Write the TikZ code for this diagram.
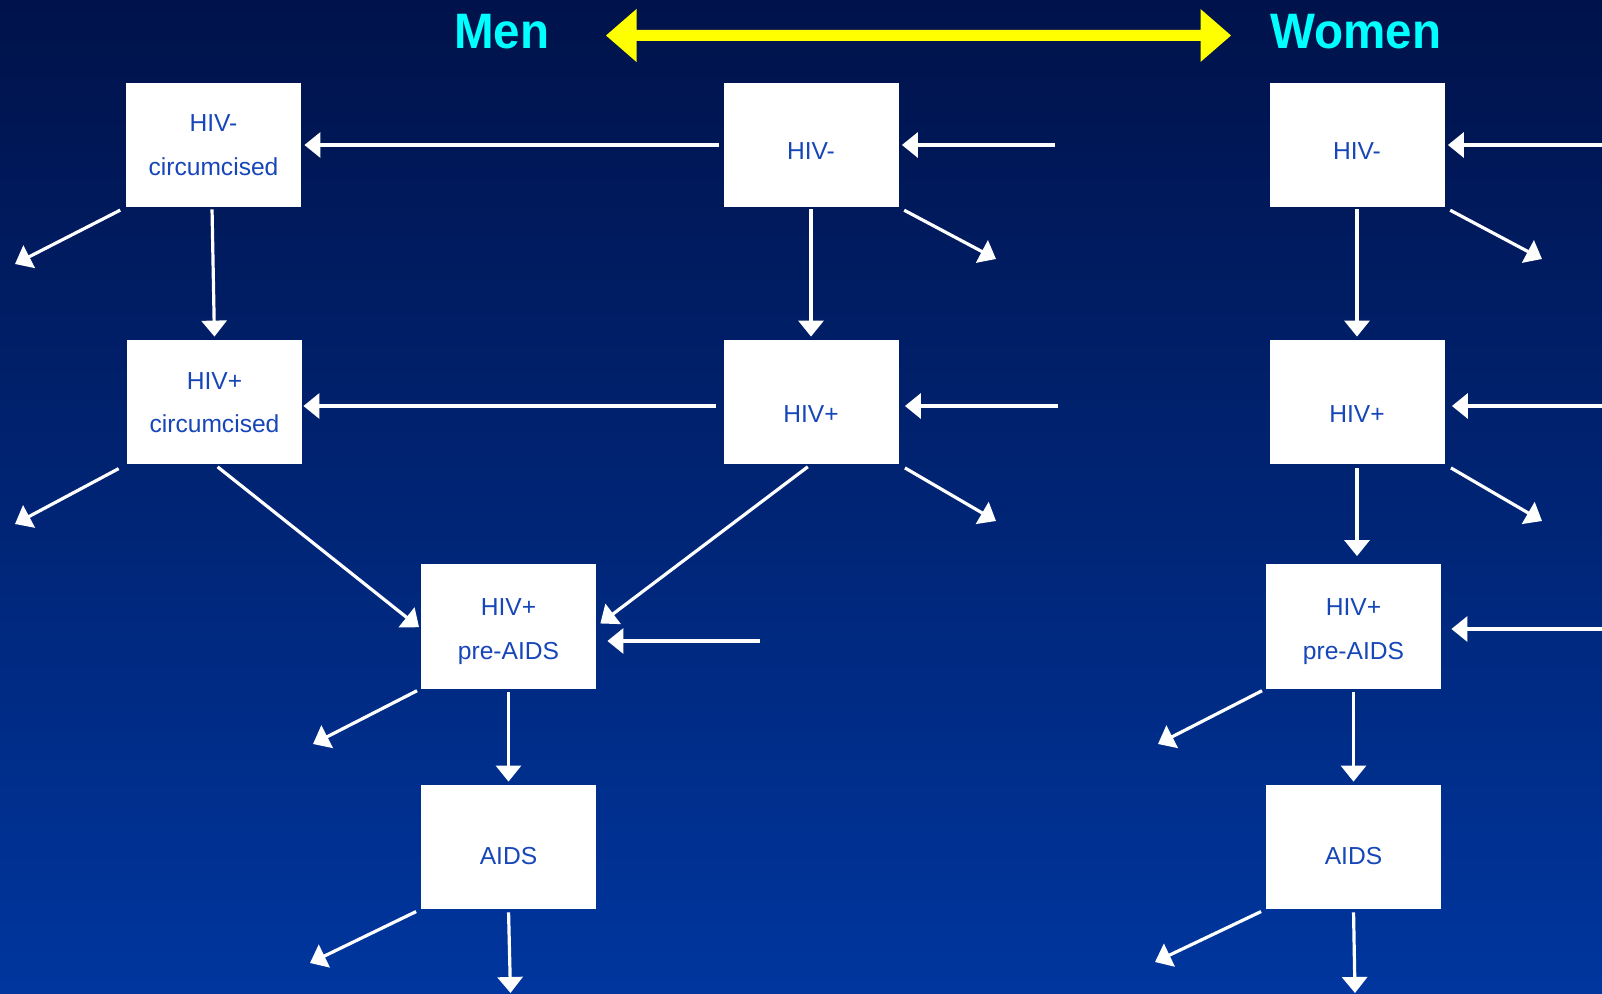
\documentclass[tikz,border=0pt]{standalone}
\usepackage{fontspec}
\setmainfont{Liberation Sans}
\usetikzlibrary{arrows.meta,calc}
\definecolor{bgtop}{RGB}{0,18,74}
\definecolor{bgbot}{RGB}{0,54,158}
\definecolor{boxtxt}{RGB}{22,70,184}
\definecolor{ttl}{RGB}{0,255,255}
\definecolor{yel}{RGB}{255,255,0}
\begin{document}
\begin{tikzpicture}[x=0.5pt,y=-0.5pt,
  box/.style={draw=none,fill=white,minimum width=87.5pt,minimum height=62pt,inner sep=0pt},
  lbl/.style={text=boxtxt,font=\fontsize{12.3}{14}\selectfont,inner sep=0pt,anchor=base},
  arr/.style={draw=white,line width=1.6pt,-{Triangle[length=8pt,width=12.5pt]}},
  ttlstyle/.style={text=ttl,font=\fontsize{24.9}{28}\selectfont\bfseries,inner sep=0pt,anchor=base}]
\useasboundingbox (0,0) rectangle (1602,994);
\shade[top color=bgtop,bottom color=bgbot] (0,0) rectangle (1602,994);

% titles
\node[ttlstyle] (men) at (501.6,48.5) {\scalebox{0.955}[1]{Men}};
\node[ttlstyle] (women) at (1356,48.5) {\scalebox{0.955}[1]{Women}};
\fill[yel] (606,35.5) -- (636.5,9) -- (636.5,30) -- (1200.5,30) -- (1200.5,9) -- (1231,35.5)
  -- (1200.5,62) -- (1200.5,41) -- (636.5,41) -- (636.5,62) -- cycle;

% boxes
\node[box] (hnc) at (213.5,145) {};
\node[box] (hpc) at (214.5,402) {};
\node[box] (hnm) at (811,145) {};
\node[box] (hpm) at (811,402) {};
\node[box] (pam) at (508.5,626.5) {};
\node[box] (aim) at (508.5,847) {};
\node[box] (hnw) at (1357,145) {};
\node[box] (hpw) at (1357,402) {};
\node[box] (paw) at (1353.5,626.5) {};
\node[box] (aiw) at (1353.5,847) {};

% labels
\node[lbl] (hncA) at (213.5,132) {HIV-};
\node[lbl] (hncB) at (213.5,176) {circumcised};
\node[lbl] (hpcA) at (214.5,389.3) {HIV+};
\node[lbl] (hpcB) at (214.5,432.5) {circumcised};
\node[lbl] (hnmA) at (811,160) {HIV-};
\node[lbl] (hpmA) at (811,422.7) {HIV+};
\node[lbl] (pamA) at (508.5,615.7) {HIV+};
\node[lbl] (pamB) at (508.5,660) {pre-AIDS};
\node[lbl] (aimA) at (508.5,864) {AIDS};
\node[lbl] (hnwA) at (1357,160) {HIV-};
\node[lbl] (hpwA) at (1357,422.7) {HIV+};
\node[lbl] (pawA) at (1353.5,615.7) {HIV+};
\node[lbl] (pawB) at (1353.5,660) {pre-AIDS};
\node[lbl] (aiwA) at (1353.5,864) {AIDS};

% free ends
\coordinate (inHnm) at (1055,145);
\coordinate (inHpm) at (1058,406);
\coordinate (inPam) at (760,641);
\coordinate (inHnw) at (1602,145);
\coordinate (inHpw) at (1602,406);
\coordinate (inPaw) at (1602,629);
\coordinate (oHnm) at (996,259);
\coordinate (oHpm) at (996,521);
\coordinate (oHnc) at (15,264);
\coordinate (oHpc) at (15,524);
\coordinate (oPam) at (313,744);
\coordinate (oAim) at (310,963);
\coordinate (dAim) at (510.5,993);
\coordinate (oHnw) at (1542,259);
\coordinate (oHpw) at (1542,521);
\coordinate (oPaw) at (1158,744);
\coordinate (oAiw) at (1155,962);
\coordinate (dAiw) at (1355,993);

% men: horizontal box-to-box
\draw[arr,shorten <=2pt,shorten >=1.5pt] (hnm.west) -- (hnc.east);
\draw[arr,shorten <=3.5pt,shorten >=0.5pt] ($(hpm.west)+(0,4)$) -- ($(hpc.east)+(0,4)$);
% men: vertical / diagonal
\draw[arr,shorten <=1pt,shorten >=1.5pt] (hnm.south) -- (hpm.north);
\draw[arr,shorten <=1pt,shorten >=1.5pt] ($(hnc.south)+(-1.5,0)$) -- (hpc.north);
\draw[arr,shorten <=2pt,shorten >=1pt] (hpc.south) -- ($(pam.west)+(0,2)$);
\draw[arr,shorten <=2pt,shorten >=2.5pt] (hpm.south) -- (pam.east);
\draw[arr,shorten <=1.5pt,shorten >=1.5pt] (pam.south) -- (aim.north);
% men: inflows
\draw[arr,shorten >=1.5pt] (inHnm) -- (inHnm -| hnm.east);
\draw[arr,shorten >=3pt] (inHpm) -- (inHpm -| hpm.east);
\draw[arr,shorten >=5.5pt] (inPam) -- (inPam -| pam.east);
% men: outflows
\draw[arr,shorten <=3pt] (hnm.south east) -- (oHnm);
\draw[arr,shorten <=3.5pt] (hpm.south east) -- (oHpm);
\draw[arr,shorten <=3pt] (hnc.south west) -- (oHnc);
\draw[arr,shorten <=4.5pt] (hpc.south west) -- (oHpc);
\draw[arr,shorten <=2pt] (pam.south west) -- (oPam);
\draw[arr,shorten <=2.5pt] (aim.south west) -- (oAim);
\draw[arr,shorten <=1.5pt] (aim.south) -- (dAim);

% women
\draw[arr,shorten <=1pt,shorten >=1.5pt] (hnw.south) -- (hpw.north);
\draw[arr,shorten <=2pt,shorten >=4pt] (hpw.south) -- (hpw.south |- paw.north);
\draw[arr,shorten <=1.5pt,shorten >=1.5pt] (paw.south) -- (aiw.north);
\draw[arr,shorten >=1.5pt] (inHnw) -- (inHnw -| hnw.east);
\draw[arr,shorten >=3.5pt] (inHpw) -- (inHpw -| hpw.east);
\draw[arr,shorten >=5pt] (inPaw) -- (inPaw -| paw.east);
\draw[arr,shorten <=3pt] (hnw.south east) -- (oHnw);
\draw[arr,shorten <=3.5pt] (hpw.south east) -- (oHpw);
\draw[arr,shorten <=2pt] (paw.south west) -- (oPaw);
\draw[arr,shorten <=2.5pt] (aiw.south west) -- (oAiw);
\draw[arr,shorten <=1.5pt] (aiw.south) -- (dAiw);
\end{tikzpicture}
\end{document}
